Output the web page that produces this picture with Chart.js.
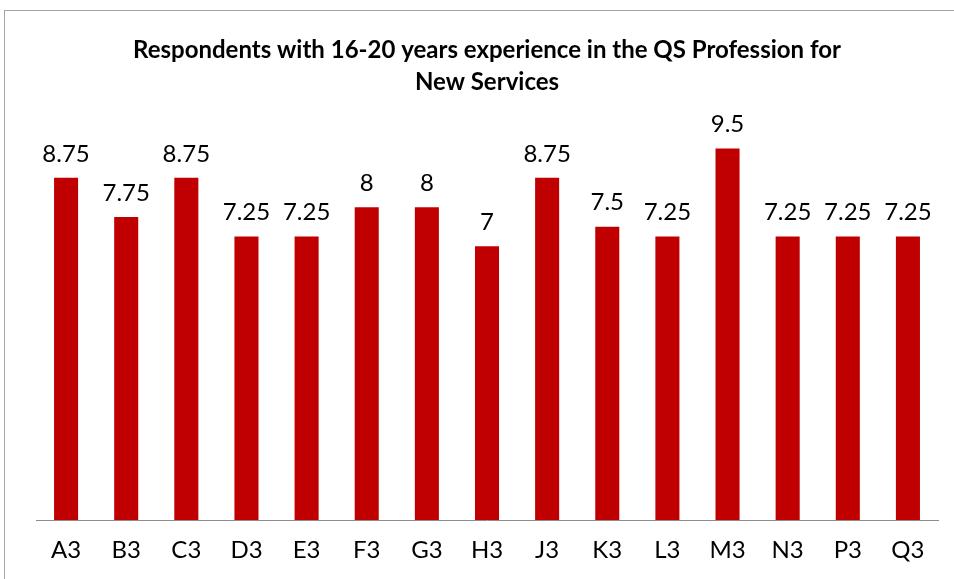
<!DOCTYPE html>
<html>
<head>
<meta charset="utf-8">
<script src="https://cdn.jsdelivr.net/npm/chart.js@4"></script>
<style>
    body { margin: 0; background: #fff; }
    #wrap { position: relative; width: 954px; height: 579px; overflow: hidden; }
    #frame {
        position: absolute; left: 4px; top: 10px; width: 980px; height: 600px;
        border: 1px solid #a6a6a6; pointer-events: none;
    }
</style>
</head>
<body>
<div id="wrap">
    <canvas id="chart" width="954" height="579"></canvas>
    <div id="frame"></div>
</div>
<script>
// Données du graphique
const categories = ['A3', 'B3', 'C3', 'D3', 'E3', 'F3', 'G3', 'H3', 'J3', 'K3', 'L3', 'M3', 'N3', 'P3', 'Q3'];
const scores = [8.75, 7.75, 8.75, 7.25, 7.25, 8, 8, 7, 8.75, 7.5, 7.25, 9.5, 7.25, 7.25, 7.25];
const titleLines = ['Respondents with 16-20 years experience in the QS Profession for', 'New Services'];

const fontFamily = 'Lato, "Open Sans", sans-serif';

// Étiquettes de valeurs au-dessus des barres
const valueLabels = {
    id: 'valueLabels',
    afterDatasetsDraw(chart) {
        const ctx = chart.ctx;
        const meta = chart.getDatasetMeta(0);
        ctx.save();
        ctx.font = '24px ' + fontFamily;
        ctx.fillStyle = '#000';
        ctx.textAlign = 'center';
        ctx.textBaseline = 'middle';
        meta.data.forEach((bar, i) => {
            ctx.fillText(String(scores[i]), bar.x, bar.y - 24);
        });
        ctx.restore();
    }
};

new Chart(document.getElementById('chart'), {
    type: 'bar',
    data: {
        labels: categories,
        datasets: [{
            data: scores,
            backgroundColor: '#c00000',
            barPercentage: 0.4,
            categoryPercentage: 1
        }]
    },
    options: {
        responsive: false,
        animation: false,
        layout: {
            padding: { left: 36, right: 16, top: 0, bottom: -1 }
        },
        plugins: {
            legend: { display: false },
            tooltip: { enabled: false },
            title: {
                display: true,
                text: titleLines,
                color: '#000',
                font: { family: fontFamily, size: 24, weight: 'bold', lineHeight: 1.3333 },
                padding: { top: 34, bottom: 31 }
            }
        },
        scales: {
            x: {
                grid: { display: false, drawTicks: false },
                border: { display: true, color: '#8c8c8c', width: 1 },
                ticks: {
                    color: '#000',
                    font: { family: fontFamily, size: 24, lineHeight: 1 },
                    padding: 18
                }
            },
            y: {
                display: false,
                min: 0,
                max: 10
            }
        }
    },
    plugins: [valueLabels]
});
</script>
</body>
</html>
